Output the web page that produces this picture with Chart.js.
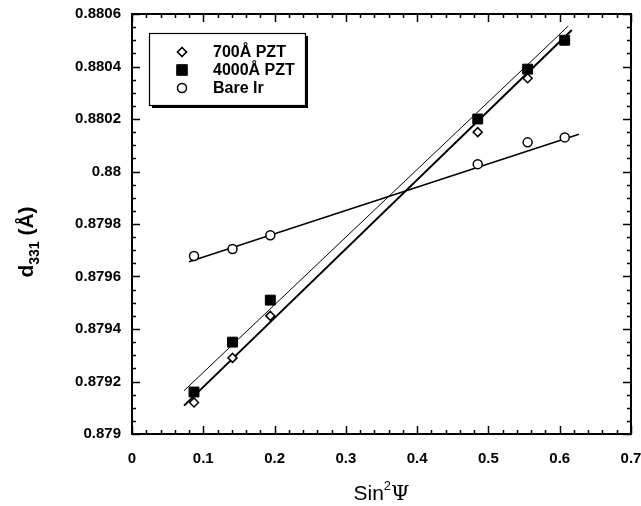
<!DOCTYPE html>
<html lang="en">
<head>
    <meta charset="UTF-8">
    <title>d331 vs sin2psi</title>
    <script src="https://cdn.jsdelivr.net/npm/chart.js"></script>
    <style>
        body { margin: 0; background: #fff; }
        #chart { width: 641px; height: 506px; }
    </style>
</head>
<body>
    <div id="chart"><canvas id="myChart" width="641" height="506"></canvas></div>
    <script>
        // values
        const sin2psi = [0.087, 0.141, 0.194, 0.485, 0.555, 0.607];
        const pzt700 = [0.87912, 0.87929, 0.87945, 0.88015, 0.880355, 0.8805];
        const pzt4000 = [0.87916, 0.87935, 0.87951, 0.8802, 0.88039, 0.8805];
        const bareIr = [0.879678, 0.879705, 0.879757, 0.880028, 0.880111, 0.88013];

        // ends of the fitted lines
        const fit700X = [0.073, 0.617];
        const fit700Y = [0.879108, 0.880539];
        const fit4000X = [0.073, 0.612];
        const fit4000Y = [0.879165, 0.880554];
        const fitIrX = [0.080, 0.627];
        const fitIrY = [0.879656, 0.880142];

        const xTicks = [0, 0.1, 0.2, 0.3, 0.4, 0.5, 0.6, 0.7];
        const yTicks = [0.879, 0.8792, 0.8794, 0.8796, 0.8798, 0.88, 0.8802, 0.8804, 0.8806];

        const toPts = (xs, ys) => xs.map((x, i) => ({ x: x, y: ys[i] }));
        const SANS = '"Liberation Sans", Arial, sans-serif';

        // frame, inward ticks on all four sides, axis titles and the boxed legend
        const decor = {
            id: 'decor',
            afterDraw(chart) {
                const ctx = chart.ctx;
                const a = chart.chartArea;
                const xs = chart.scales.x, ys = chart.scales.y;
                ctx.save();
                ctx.strokeStyle = '#000';
                ctx.lineWidth = 2;
                ctx.strokeRect(a.left, a.top, a.right - a.left, a.bottom - a.top);

                ctx.lineWidth = 1.5;
                ctx.beginPath();
                for (let i = 0; i <= 35; i++) {
                    const px = Math.round(xs.getPixelForValue(i * 0.02)) + 0.5;
                    const len = i % 5 === 0 ? 8 : 4;
                    ctx.moveTo(px, a.bottom); ctx.lineTo(px, a.bottom - len);
                    ctx.moveTo(px, a.top); ctx.lineTo(px, a.top + len);
                }
                for (let i = 0; i <= 32; i++) {
                    const py = Math.round(ys.getPixelForValue(0.879 + i * 0.00005)) + 0.5;
                    const len = i % 4 === 0 ? 8 : 4;
                    ctx.moveTo(a.left, py); ctx.lineTo(a.left + len, py);
                    ctx.moveTo(a.right, py); ctx.lineTo(a.right - len, py);
                }
                ctx.stroke();

                // axis titles
                ctx.fillStyle = '#000';
                ctx.textBaseline = 'alphabetic';
                const t1 = 'Sin', t2 = '2', t3 = 'Ψ';
                ctx.font = '21px ' + SANS;
                const w1 = ctx.measureText(t1).width;
                ctx.font = '21px "DejaVu Serif", serif';
                const w3 = ctx.measureText(t3).width;
                ctx.font = '13px ' + SANS;
                const w2 = ctx.measureText(t2).width;
                const sx = (a.left + a.right) / 2 - (w1 + w2 + w3) / 2;
                const by = 500;
                ctx.font = '21px ' + SANS;
                ctx.fillText(t1, sx, by);
                ctx.font = '13px ' + SANS;
                ctx.fillText(t2, sx + w1, by - 10);
                ctx.font = '21px "DejaVu Serif", serif';
                ctx.fillText(t3, sx + w1 + w2, by);

                ctx.save();
                ctx.translate(33, 242);
                ctx.rotate(-Math.PI / 2);
                ctx.font = 'bold 21px ' + SANS;
                const d = 'd', sub = '331', rest = ' (Å)';
                const wd = ctx.measureText(d).width, wr = ctx.measureText(rest).width;
                ctx.font = 'bold 14px ' + SANS;
                const ws = ctx.measureText(sub).width;
                const lx = -(wd + ws + wr) / 2;
                ctx.font = 'bold 21px ' + SANS;
                ctx.fillText(d, lx, 0);
                ctx.font = 'bold 14px ' + SANS;
                ctx.fillText(sub, lx + wd, 6);
                ctx.font = 'bold 21px ' + SANS;
                ctx.fillText(rest, lx + wd + ws, 0);
                ctx.restore();

                // legend box with drop shadow
                const bx = 149, bt = 33, bw = 156, bh = 72;
                ctx.fillStyle = '#000';
                ctx.fillRect(bx + 3, bt + 3, bw, bh);
                ctx.fillStyle = '#fff';
                ctx.fillRect(bx, bt, bw, bh);
                ctx.lineWidth = 1.2;
                ctx.strokeRect(bx + 0.5, bt + 0.5, bw, bh);
                const entries = chart.data.datasets.filter(ds => ds.legend);
                ctx.font = 'bold 16px ' + SANS;
                ctx.textBaseline = 'middle';
                entries.forEach((ds, i) => {
                    const ey = 52 + i * 18;
                    ctx.fillStyle = '#000';
                    ctx.fillText(ds.label, 213, ey + 1);
                    Chart.helpers.drawPoint(ctx, {
                        pointStyle: ds.pointStyle, radius: ds.pointRadius, borderWidth: ds.borderWidth
                    }, 182, ey);
                    ctx.strokeStyle = '#000';
                    ctx.fillStyle = ds.backgroundColor;
                    ctx.lineWidth = ds.borderWidth;
                    ctx.fill();
                    ctx.stroke();
                });
                ctx.restore();
            }
        };

        const tickFont = { family: SANS, size: 15, weight: 'bold' };

        const ctx = document.getElementById('myChart').getContext('2d');
        const myChart = new Chart(ctx, {
            type: 'scatter',
            data: {
                datasets: [
                    { label: '700Å PZT', legend: true, order: 1, data: toPts(sin2psi, pzt700), pointStyle: 'rectRot', pointRadius: 4.5, borderWidth: 1.5, borderColor: '#000', backgroundColor: '#fff' },
                    { label: '4000Å PZT', legend: true, order: 0, data: toPts(sin2psi, pzt4000), pointStyle: 'rect', pointRadius: 7, borderWidth: 1, borderColor: '#000', backgroundColor: '#000' },
                    { label: 'Bare Ir', legend: true, order: 2, data: toPts(sin2psi, bareIr), pointStyle: 'circle', pointRadius: 4.5, borderWidth: 1.5, borderColor: '#000', backgroundColor: '#fff' },
                    { label: 'fit700', order: 3, data: toPts(fit700X, fit700Y), showLine: true, pointRadius: 0, borderColor: '#000', borderWidth: 2 },
                    { label: 'fit4000', order: 3, data: toPts(fit4000X, fit4000Y), showLine: true, pointRadius: 0, borderColor: '#000', borderWidth: 1 },
                    { label: 'fitIr', order: 3, data: toPts(fitIrX, fitIrY), showLine: true, pointRadius: 0, borderColor: '#000', borderWidth: 1.5 }
                ]
            },
            options: {
                responsive: false,
                animation: false,
                devicePixelRatio: 1,
                layout: { padding: { top: 14, right: 10, left: 0, bottom: 0 } },
                plugins: { legend: { display: false }, tooltip: { enabled: false } },
                elements: { point: { hoverRadius: 0 } },
                scales: {
                    x: {
                        type: 'linear', min: 0, max: 0.7,
                        afterBuildTicks: s => { s.ticks = xTicks.map(v => ({ value: v })); },
                        afterFit: s => { s.height = 72; s.paddingLeft = 0; s.paddingRight = 0; },
                        grid: { display: false, drawTicks: false },
                        border: { display: false },
                        ticks: {
                            padding: 16, color: '#000', font: tickFont, maxRotation: 0,
                            callback: v => String(parseFloat(v.toFixed(4)))
                        }
                    },
                    y: {
                        type: 'linear', min: 0.879, max: 0.8806,
                        afterBuildTicks: s => { s.ticks = yTicks.map(v => ({ value: v })); },
                        afterFit: s => { s.width = 132; s.paddingTop = 0; s.paddingBottom = 0; },
                        grid: { display: false, drawTicks: false },
                        border: { display: false },
                        ticks: {
                            padding: 11, color: '#000', font: tickFont,
                            callback: v => String(parseFloat(v.toFixed(4)))
                        }
                    }
                }
            },
            plugins: [decor]
        });
    </script>
</body>
</html>
